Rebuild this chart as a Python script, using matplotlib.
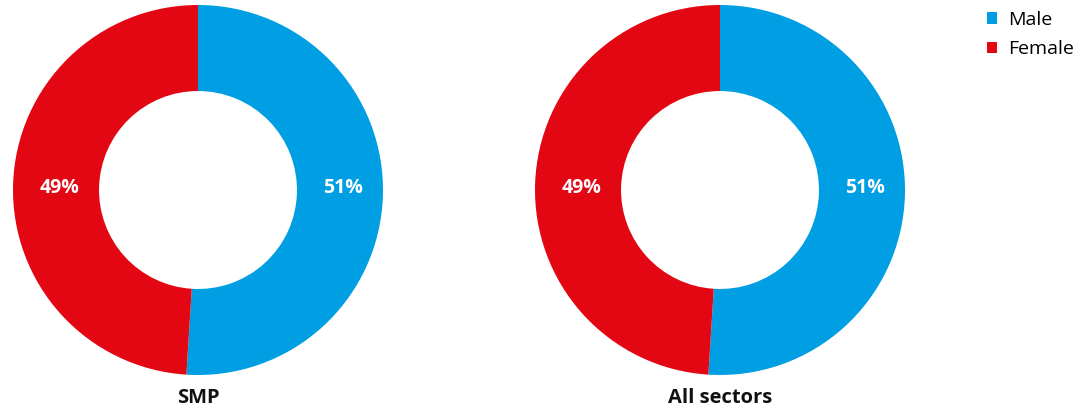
import matplotlib.pyplot as plt
from matplotlib.patches import Patch

plt.rcParams['font.family'] = ['Open Sans', 'DejaVu Sans']

categories = ["Male", "Female"]
smp_values = [51, 49]
all_values = [51, 49]
titles = ["SMP", "All sectors"]
colors = ["#009FE3", "#E30613"]

W, H = 1083, 411
fig = plt.figure(figsize=(W / 100, H / 100), dpi=100)

centers = [198, 720]
R = 185
cy = 190
ring = 0.465
mid = 1 - ring / 2

for cx, vals, title in zip(centers, [smp_values, all_values], titles):
    ax = fig.add_axes([(cx - R) / W, (H - cy - R) / H, 2 * R / W, 2 * R / H])
    ax.pie(vals, colors=colors, startangle=90, counterclock=False,
           radius=1, wedgeprops=dict(width=ring, linewidth=0))
    # labels sit on the horizontal, right for Male, left for Female
    for v, xpos in zip(vals, [mid + 0.015, -(mid - 0.02)]):
        ax.text(xpos, 0.01, f"{v}%", ha="center", va="center",
                color="white", fontsize=14, fontweight="bold")
    ax.set_xlim(-1, 1)
    ax.set_ylim(-1, 1)
    ax.set_aspect("equal")
    ax.axis("off")
    fig.text(cx / W, 1 - 398 / H, title, ha="center", va="center",
             fontsize=14.5, fontweight="bold", color="#111111")

handles = [Patch(facecolor=c, edgecolor="none") for c in colors]
fig.legend(handles, categories, loc="upper left", bbox_to_anchor=(979 / W, 1 - 3 / H),
           frameon=False, fontsize=14, handlelength=0.55, handleheight=0.55,
           handletextpad=0.55, labelspacing=0.6, borderaxespad=0)

fig.savefig("out.png", dpi=100)
